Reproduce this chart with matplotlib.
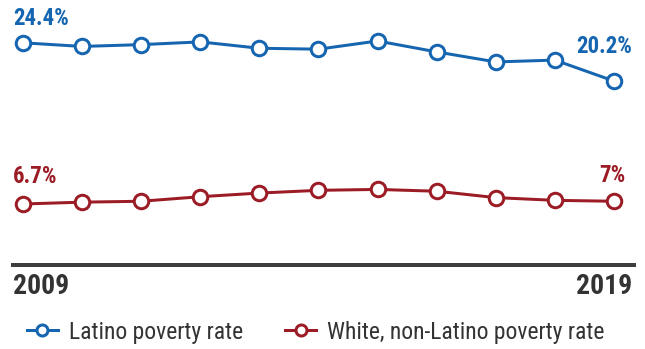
import matplotlib

matplotlib.use("Agg")
import matplotlib.pyplot as plt
from matplotlib import font_manager
from matplotlib.lines import Line2D

years = list(range(2009, 2020))
latino = [24.4, 24.0, 24.2, 24.5, 23.8, 23.7, 24.6, 23.4, 22.3, 22.5, 20.2]
white = [6.7, 6.9, 7.0, 7.5, 7.9, 8.2, 8.3, 8.1, 7.4, 7.1, 7.0]
latino_label = "Latino poverty rate"
white_label = "White, non-Latino poverty rate"

BLUE = "#1565b0"
RED = "#9c1c26"
AXIS = "#3d3d3d"

names = {f.name for f in font_manager.fontManager.ttflist}
family = "Roboto"
for cand in ["Roboto Condensed", "Liberation Sans Narrow"]:
    if cand in names:
        family = cand
        break
plt.rcParams["font.family"] = [family, "DejaVu Sans"]

PX = 72 / 100  # points per pixel at dpi 100

fig = plt.figure(figsize=(6.45, 3.49), dpi=100)
ax = fig.add_axes([13 / 645, 84 / 349, 621 / 645, 265 / 349])

line_kw = dict(lw=3 * PX, marker="o", ms=14.5 * PX, mew=3 * PX,
               mfc="white", clip_on=False, zorder=3)
ax.plot(years, latino, color=BLUE, **line_kw)
ax.plot(years, white, color=RED, **line_kw)

ax.set_xlim(2009 - 10 / 59.1, 2019 + 20 / 59.1)
ax.set_ylim(0, 29.1)
for s in ["top", "left", "right"]:
    ax.spines[s].set_visible(False)
ax.spines["bottom"].set_color(AXIS)
ax.spines["bottom"].set_linewidth(4 * PX)
ax.set_xticks([])
ax.set_yticks([])
ax.patch.set_alpha(0)

lab_kw = dict(textcoords="offset points", fontsize=16.5, fontweight="bold", va="center")
ax.annotate(f"{latino[0]}%", (years[0], latino[0]), xytext=(-10 * PX, 24 * PX),
            color=BLUE, ha="left", **lab_kw)
ax.annotate(f"{latino[-1]}%", (years[-1], latino[-1]), xytext=(18 * PX, 35 * PX),
            color=BLUE, ha="right", **lab_kw)
ax.annotate(f"{white[0]}%", (years[0], white[0]), xytext=(-10 * PX, 27 * PX),
            color=RED, ha="left", **lab_kw)
ax.annotate(f"{white[-1]:g}%", (years[-1], white[-1]), xytext=(12 * PX, 26 * PX),
            color=RED, ha="right", **lab_kw)

yr_kw = dict(textcoords="offset points", fontsize=20, fontweight="bold",
             va="center", color="#333333")
ax.annotate(str(years[0]), (years[0], 0), xytext=(-10 * PX, -21 * PX), ha="left", **yr_kw)
ax.annotate(str(years[-1]), (years[-1], 0), xytext=(18 * PX, -21 * PX), ha="right", **yr_kw)

handles = [
    Line2D([], [], color=BLUE, lw=3 * PX, marker="o", ms=11 * PX, mew=3 * PX, mfc="white"),
    Line2D([], [], color=RED, lw=3 * PX, marker="o", ms=11 * PX, mew=3 * PX, mfc="white"),
]
fig.legend(handles, [latino_label, white_label], loc="center left",
           bbox_to_anchor=(27 / 645, 1 - 332 / 349), ncol=2, frameon=False,
           fontsize=17, handlelength=1.3, handletextpad=0.47, columnspacing=1.8,
           labelcolor="#333333", borderaxespad=0, borderpad=0)

fig.savefig("out.png", dpi=100)
